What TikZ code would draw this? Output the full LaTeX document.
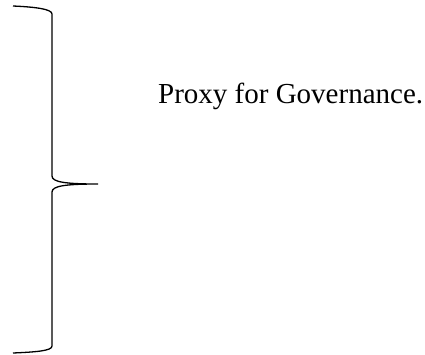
\documentclass[tikz,border=0pt]{standalone}
\usepackage{fontspec}
\setmainfont{Liberation Serif}
\begin{document}
\begin{tikzpicture}[x=1pt, y=-1pt]
  \useasboundingbox (0,0) rectangle (425,354);
  \draw[line width=1.3pt]
    (13,6) .. controls (35,7) and (52,9) .. (52,14) -- (52,176)
    .. controls (52,182) and (65,184) .. (98,184)
    .. controls (65,184) and (52,186) .. (52,192) -- (52,346)
    .. controls (52,351) and (35,352) .. (13,353);
  \node[anchor=base west, inner sep=0pt, font=\fontsize{29}{34}\selectfont]
    (proxy) at (158,103) {Proxy for Governance.};
\end{tikzpicture}
\end{document}
